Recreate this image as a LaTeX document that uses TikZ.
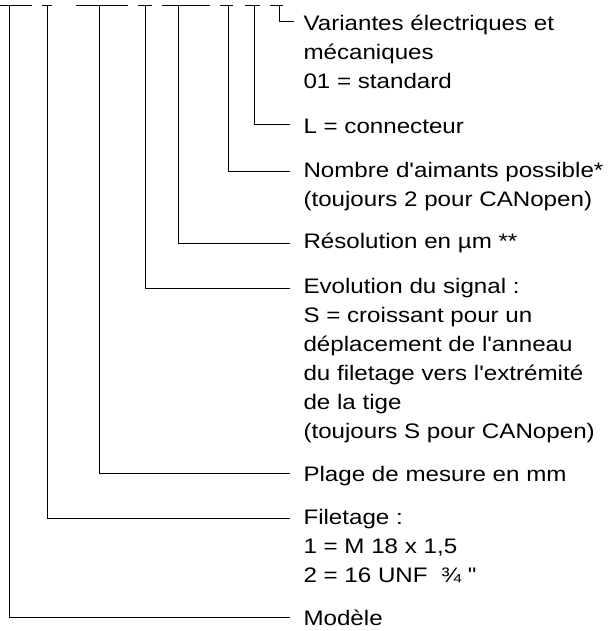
\documentclass[tikz,border=0pt]{standalone}
\usepackage{fontspec}
\setmainfont[FakeStretch=1.15,Ligatures=TeXOff]{Liberation Sans}

\begin{document}
\begin{tikzpicture}[x=0.5pt,y=-0.5pt,line width=0.5pt,
                    lbl/.style={anchor=north west,align=left,inner sep=0pt,font=\fontsize{10.5}{14.45}\selectfont}]
	\useasboundingbox (0,0) rectangle (607,631);

	% bars under the code and tops of the leads
	\foreach \a/\b in {0/32,42/52,76/128,138/152,162/210,220/233,245/260,270/283}
	 \draw (\a,6) -- (\b,6);
	\foreach \n/\x in {1/9,2/47,3/99,4/145,5/178,6/228,7/254,8/279}
	 \coordinate (t\n) at (\x,6);
	\foreach \n/\y in {1/617,2/518,3/473,4/288,5/243,6/171.5,7/124}
	 \coordinate (e\n) at (290,\y);
	\coordinate (e8) at (294,22);

	\node[lbl](variantes) at (303,14.7) {Variantes électriques et\\mécaniques\\01 = standard};
	\node[lbl](connecteur) at (303,118.2) {L = connecteur};
	\node[lbl](aimants) at (303,161.7) {Nombre d'aimants possible*\\(toujours 2 pour CANopen)};
	\node[lbl](resolution) at (303,232.8) {Résolution en µm **};
	\node[lbl](evolution) at (303,278) {Evolution du signal :\\S = croissant pour un\\déplacement de l'anneau\\du filetage vers l'extrémité\\de la tige\\(toujours S pour CANopen)};
	\node[lbl](plage) at (303,466.2) {Plage de mesure en mm};
	\node[lbl](filetage) at (303,509.2) {Filetage :\\1 = M 18 x 1,5\\2 = 16 UNF~~¾ "};
	\node[lbl](modele) at (303,609.2) {Modèle};

	\foreach \n in {1,...,8}
	 \draw (t\n) |- (e\n);
\end{tikzpicture}
\end{document}
